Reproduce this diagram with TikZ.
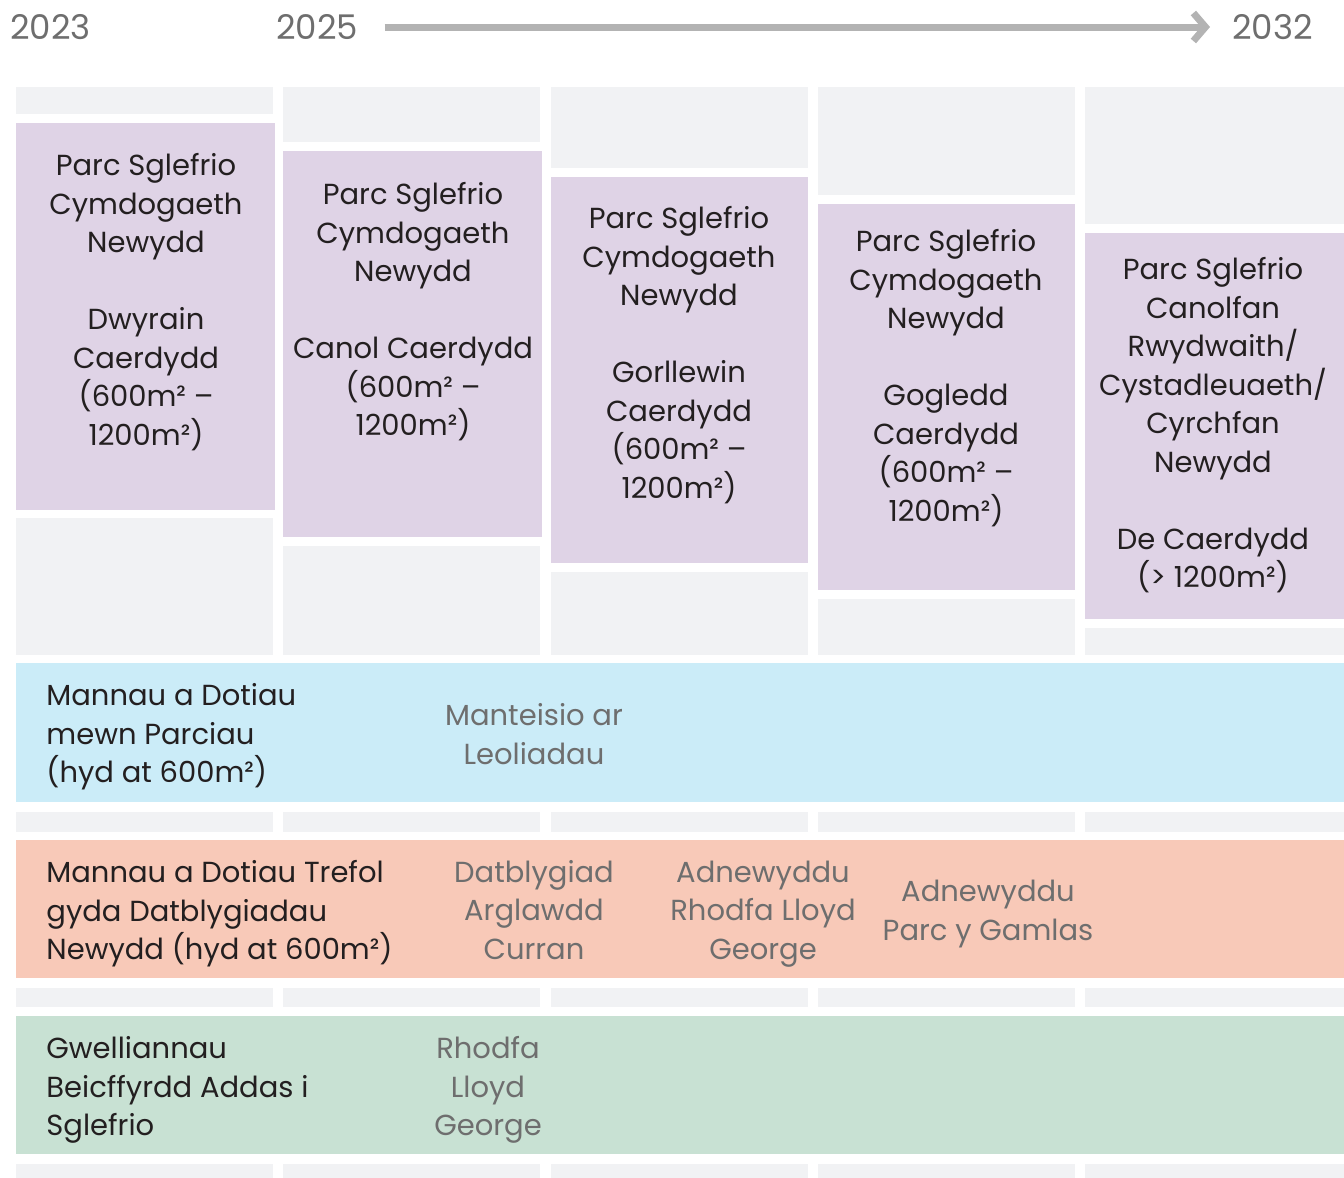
\documentclass[tikz,border=0pt]{standalone}
\usepackage{fontspec}
\setmainfont{Poppins}
\usetikzlibrary{arrows.meta}
\definecolor{lilac}{HTML}{DFD3E6}
\definecolor{track}{HTML}{F1F2F4}
\definecolor{sky}{HTML}{CBECF8}
\definecolor{peach}{HTML}{F8C9B8}
\definecolor{mint}{HTML}{C8E1D3}
\definecolor{ink}{HTML}{231F20}
\definecolor{muted}{HTML}{6E6E6E}
\definecolor{rulegray}{HTML}{B3B3B3}

\begin{document}
\begin{tikzpicture}[x=0.5pt, y=-0.5pt,
  every node/.style={font=\fontsize{14.5}{19.25}\selectfont, text=ink, inner sep=0pt},
  year/.style={anchor=west, font=\fontsize{17}{22}\selectfont, text=muted},
  park/.style={align=center, anchor=north},
  lane/.style={align=left, anchor=west},
  item/.style={align=center, text=muted},
]
  \useasboundingbox (0,0) rectangle (1344,1178);

  % years
  \node[year] (y2023) at (10,27) {2023};
  \node[year] (y2025) at (276,27) {2025};
  \node[year] (y2032) at (1232,27) {2032};
  \draw[rulegray, line width=3.5pt, shorten <=13pt, shorten >=11pt,
        -{Straight Barb[length=6pt, width=14pt]}] (y2025) -- (y2032);

  % skate parks
  \fill[track] (16,87) rectangle (273,114);
  \fill[lilac] (16,123) rectangle (275,510);
  \fill[track] (16,518) rectangle (273,655);
  \fill[track] (283,87) rectangle (540,142);
  \fill[lilac] (283,151) rectangle (542,537);
  \fill[track] (283,546) rectangle (540,655);
  \fill[track] (551,87) rectangle (808,168);
  \fill[lilac] (551,177) rectangle (808,563);
  \fill[track] (551,572) rectangle (808,655);
  \fill[track] (818,87) rectangle (1075,195);
  \fill[lilac] (818,204) rectangle (1075,590);
  \fill[track] (818,599) rectangle (1075,655);
  \fill[track] (1085,87) rectangle (1344,224);
  \fill[lilac] (1085,233) rectangle (1344,619);
  \fill[track] (1085,628) rectangle (1344,655);

  \node[park] (east) at (146,153) {Parc Sglefrio\\Cymdogaeth\\Newydd\\[19.25pt]Dwyrain\\Caerdydd\\(600m² –\\1200m²)};
  \node[park] (central) at (413,182) {Parc Sglefrio\\Cymdogaeth\\Newydd\\[19.25pt]Canol Caerdydd\\(600m² –\\1200m²)};
  \node[park] (west) at (679,206) {Parc Sglefrio\\Cymdogaeth\\Newydd\\[19.25pt]Gorllewin\\Caerdydd\\(600m² –\\1200m²)};
  \node[park] (north) at (946,229) {Parc Sglefrio\\Cymdogaeth\\Newydd\\[19.25pt]Gogledd\\Caerdydd\\(600m² –\\1200m²)};
  \node[park] (south) at (1213,257) {Parc Sglefrio\\Canolfan\\Rwydwaith/\\Cystadleuaeth/\\Cyrchfan\\Newydd\\[19.25pt]De Caerdydd\\(> 1200m²)};

  % lanes
  \fill[sky] (16,663) rectangle (1344,802);
  \fill[peach] (16,840) rectangle (1344,978);
  \fill[mint] (16,1016) rectangle (1344,1154);
  \foreach \x/\w in {16/257, 283/257, 551/257, 818/257, 1085/259} {
    \fill[track] (\x,812) rectangle ++(\w,20);
    \fill[track] (\x,988) rectangle ++(\w,19);
    \fill[track] (\x,1164) rectangle ++(\w,14);
  }

  \node[lane] (parks) at (46,737) {Mannau a Dotiau\\mewn Parciau\\(hyd at 600m²)};
  \node[item] (sites) at (534,734) {Manteisio ar\\Leoliadau};

  \node[lane] (urban) at (46,914) {Mannau a Dotiau Trefol\\gyda Datblygiadau\\Newydd (hyd at 600m²)};
  \node[item] (curran) at (534,910) {Datblygiad\\Arglawdd\\Curran};
  \node[item] (lloyd) at (763,914) {Adnewyddu\\Rhodfa Lloyd\\George};
  \node[item] (canal) at (988,914) {Adnewyddu\\Parc y Gamlas};

  \node[lane] (cycle) at (46,1090) {Gwelliannau\\Beicffyrdd Addas i\\Sglefrio};
  \node[item] (route) at (488,1090) {Rhodfa\\Lloyd\\George};
\end{tikzpicture}
\end{document}
